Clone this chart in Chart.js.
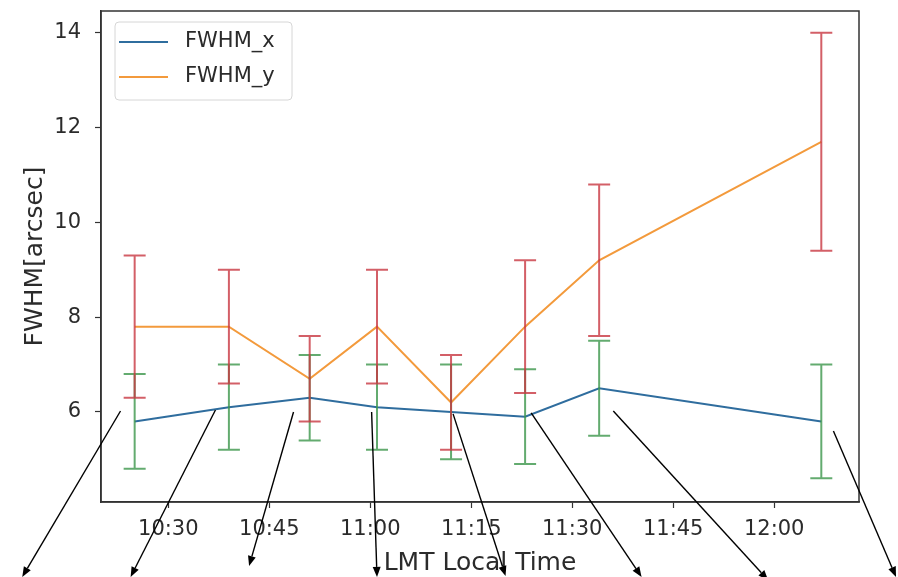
<!DOCTYPE html>
<html>
<head>
<meta charset="utf-8">
<script src="https://cdn.jsdelivr.net/npm/chart.js@4.4.1/dist/chart.umd.min.js"></script>
<style>
  html, body { margin: 0; padding: 0; background: #fff; }
  #wrap { width: 898px; height: 577px; }
</style>
</head>
<body>
<div id="wrap"><canvas id="fwhmChart" width="898" height="577"></canvas></div>
<script>
// ===== data =====
const obsTimes = ['10:25', '10:39', '10:51', '11:01', '11:12', '11:23', '11:34', '12:07'];
const fwhmX    = [5.8, 6.1, 6.3, 6.1, 6.0, 5.9, 6.5, 5.8];
const errX     = [1.0, 0.9, 0.9, 0.9, 1.0, 1.0, 1.0, 1.2];
const fwhmY    = [7.8, 7.8, 6.7, 7.8, 6.2, 7.8, 9.2, 11.7];
const errY     = [1.5, 1.2, 0.9, 1.2, 1.0, 1.4, 1.6, 2.3];

const xTickLabels = ['10:30', '10:45', '11:00', '11:15', '11:30', '11:45', '12:00'];
const yTickValues = [6, 8, 10, 12, 14];

// arrows added on top of the figure (data coords: minutes, arcsec)
const arrowFrom = [[622.9, 6.02], [637.0, 6.04], [648.6, 6.0], [660.2, 6.0], [672.3, 5.96], [683.9, 5.98], [696.1, 6.02], [728.8, 5.6]];
const arrowTo   = [[608.3, 2.52], [624.4, 2.52], [642.0, 2.75], [661.0, 2.52], [680.1, 2.54], [700.3, 2.52], [719.1, 2.45], [738.1, 2.52]];

// hh:mm -> minutes
function toMin(s) {
    const p = s.split(':');
    return parseInt(p[0]) * 60 + parseInt(p[1]);
}
function fmtMin(v) {
    const h = Math.floor(v / 60), m = Math.round(v - h * 60);
    return h + ':' + (m < 10 ? '0' + m : m);
}

const FONT = "'DejaVu Sans', sans-serif";
const TEXT = '#2b2b2b';

// error bars (green for x, red for y)
const errorBarPlugin = {
    id: 'errorBars',
    afterDatasetsDraw(chart) {
        const ctx = chart.ctx;
        const y = chart.scales.y;
        const sets = [[0, errX, 'rgba(60,150,75,0.8)'], [1, errY, 'rgba(200,55,65,0.8)']];
        sets.forEach(([di, errs, col]) => {
            const meta = chart.getDatasetMeta(di);
            const vals = chart.data.datasets[di].data;
            ctx.save();
            ctx.strokeStyle = col;
            ctx.lineWidth = 2;
            meta.data.forEach((pt, i) => {
                const v = vals[i].y;
                const top = y.getPixelForValue(v + errs[i]);
                const bot = y.getPixelForValue(v - errs[i]);
                ctx.beginPath();
                ctx.moveTo(pt.x, top); ctx.lineTo(pt.x, bot);
                ctx.moveTo(pt.x - 11, top); ctx.lineTo(pt.x + 11, top);
                ctx.moveTo(pt.x - 11, bot); ctx.lineTo(pt.x + 11, bot);
                ctx.stroke();
            });
            ctx.restore();
        });
    }
};

// full frame + legend box + arrows
const framePlugin = {
    id: 'frameLegendArrows',
    afterDraw(chart) {
        const ctx = chart.ctx;
        const a = chart.chartArea;
        ctx.save();
        ctx.strokeStyle = '#333';
        ctx.lineWidth = 1.5;
        ctx.strokeRect(a.left, a.top, a.right - a.left, a.bottom - a.top);

        // legend
        const lx = a.left + 14, ly = a.top + 11, lw = 177, lh = 78;
        ctx.fillStyle = 'rgba(255,255,255,0.85)';
        ctx.strokeStyle = '#d6d6d6';
        ctx.lineWidth = 1;
        ctx.beginPath();
        ctx.roundRect(lx, ly, lw, lh, 4);
        ctx.fill(); ctx.stroke();
        ctx.font = '21px ' + FONT;
        ctx.textBaseline = 'middle';
        chart.data.datasets.forEach((ds, i) => {
            const yy = ly + 20 + i * 35;
            ctx.strokeStyle = ds.borderColor;
            ctx.lineWidth = 2;
            ctx.beginPath();
            ctx.moveTo(lx + 4, yy); ctx.lineTo(lx + 53, yy);
            ctx.stroke();
            ctx.fillStyle = TEXT;
            ctx.fillText(ds.label, lx + 70, yy);
        });

        // arrows
        const sx = chart.scales.x, sy = chart.scales.y;
        ctx.strokeStyle = '#000';
        ctx.fillStyle = '#000';
        ctx.lineWidth = 1.4;
        arrowFrom.forEach((f, i) => {
            const x0 = sx.getPixelForValue(f[0]), y0 = sy.getPixelForValue(f[1]);
            const x1 = sx.getPixelForValue(arrowTo[i][0]), y1 = sy.getPixelForValue(arrowTo[i][1]);
            const ang = Math.atan2(y1 - y0, x1 - x0);
            const hl = 10, hw = 4;
            const bx = x1 - hl * Math.cos(ang), by = y1 - hl * Math.sin(ang);
            ctx.beginPath();
            ctx.moveTo(x0, y0); ctx.lineTo(bx, by);
            ctx.stroke();
            ctx.beginPath();
            ctx.moveTo(x1, y1);
            ctx.lineTo(bx + hw * Math.sin(ang), by - hw * Math.cos(ang));
            ctx.lineTo(bx - hw * Math.sin(ang), by + hw * Math.cos(ang));
            ctx.closePath();
            ctx.fill();
        });
        ctx.restore();
    }
};

const tMin = obsTimes.map(toMin);

new Chart(document.getElementById('fwhmChart'), {
    type: 'line',
    data: {
        datasets: [{
            label: 'FWHM_x',
            data: tMin.map((t, i) => ({ x: t, y: fwhmX[i] })),
            borderColor: '#2f6d9e',
            borderWidth: 2,
            pointRadius: 0,
            tension: 0
        }, {
            label: 'FWHM_y',
            data: tMin.map((t, i) => ({ x: t, y: fwhmY[i] })),
            borderColor: '#f39a3c',
            borderWidth: 2,
            pointRadius: 0,
            tension: 0
        }]
    },
    options: {
        responsive: false,
        animation: false,
        layout: { padding: { left: 0, top: 11, right: 39, bottom: 0 } },
        plugins: { legend: { display: false }, tooltip: { enabled: false } },
        scales: {
            x: {
                type: 'linear',
                min: 620,
                max: 732.6,
                afterBuildTicks: s => { s.ticks = xTickLabels.map(l => ({ value: toMin(l) })); },
                afterFit: s => { s.height = 75; s.paddingLeft = 0; s.paddingRight = 0; },
                ticks: { callback: v => fmtMin(v), font: { family: FONT, size: 21 }, color: TEXT, padding: 9, maxRotation: 0 },
                grid: { drawOnChartArea: false, tickLength: 6, color: '#333', tickWidth: 1.2 },
                border: { color: '#333', width: 1.5 },
                title: { display: true, text: 'LMT Local Time', font: { family: FONT, size: 25, lineHeight: 1.1 }, color: TEXT, padding: { top: 0, bottom: 0 } }
            },
            y: {
                min: 4.1,
                max: 14.46,
                afterBuildTicks: s => { s.ticks = yTickValues.map(v => ({ value: v })); },
                afterFit: s => { s.width = 101; s.paddingTop = 0; s.paddingBottom = 0; },
                ticks: { font: { family: FONT, size: 21 }, color: TEXT, padding: 14 },
                grid: { drawOnChartArea: false, tickLength: 6, color: '#333', tickWidth: 1.2 },
                border: { color: '#333', width: 1.5 },
                title: { display: true, text: 'FWHM[arcsec]', font: { family: FONT, size: 25 }, color: TEXT, padding: { top: 20, bottom: 0 } }
            }
        }
    },
    plugins: [errorBarPlugin, framePlugin]
});
</script>
</body>
</html>
